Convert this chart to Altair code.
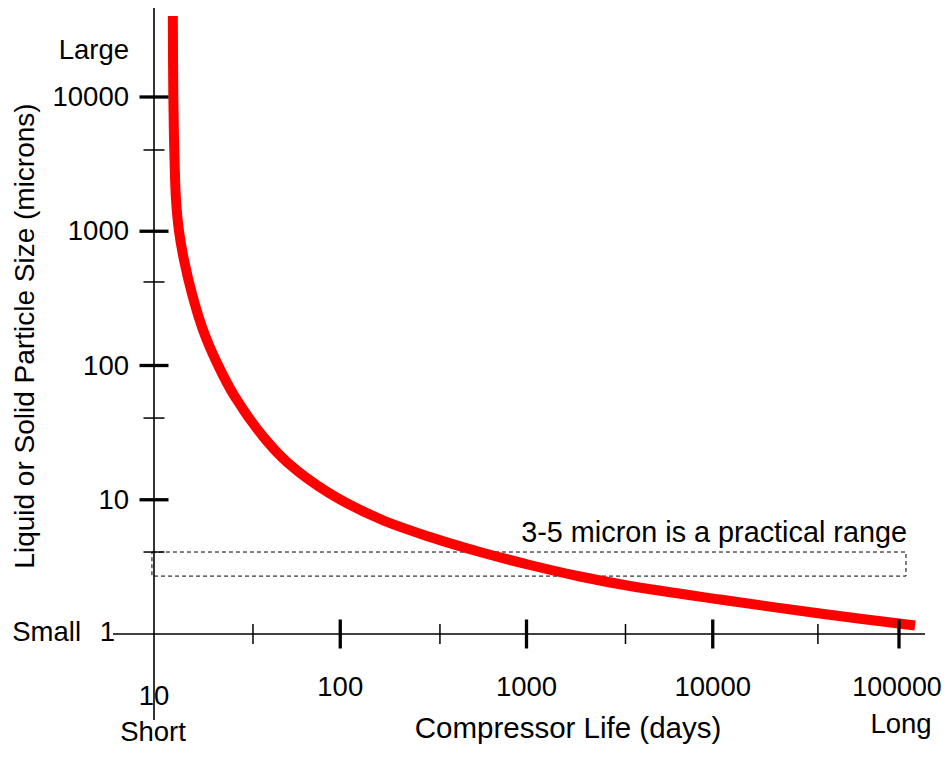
import altair as alt
import pandas as pd

# ---- data ----
life_days = [12.62, 12.70, 12.85, 13.13, 13.62, 14.49, 16.06, 18.33, 21.79, 27.22,
             38.72, 52.42, 87.02, 163.5, 303.4, 562.9, 1044, 1938, 3595, 10937, 37660, 121900]
particle_microns = [40130, 10000, 4029, 1709, 1004, 610.7, 335, 183.9, 104.4, 58.29,
                    29.34, 18.78, 11.23, 7.188, 5.279, 4.081, 3.266, 2.681, 2.278, 1.807, 1.4215, 1.157]

x_tick_values = [10, 100, 1000, 10000, 100000]
x_tick_labels = ["10", "100", "1000", "10000", "100000"]
x_major_ticks = [100, 1000, 10000, 100000]
x_minor_ticks = [34, 343, 3400, 36700]

y_tick_values = [10, 100, 1000, 10000]
y_tick_labels = ["10", "100", "1000", "10000"]
y_major_ticks = [10, 100, 1000, 10000]
y_minor_ticks = [4.08, 40.6, 419, 4030]

band_x = [9.75, 109000]
band_y = [2.70, 4.08]
band_text = "3-5 micron is a practical range"

x_title = "Compressor Life (days)"
y_title = "Liquid or Solid Particle Size (microns)"

# ---- layout ----
W, H = 934, 741
DX, DY = 186.25, 134.25      # pixels per decade
X0, Y0 = 146, 626            # pixel of x=10, y=1 inside the view
xs = alt.Scale(type="log", domain=[10 ** (1 - X0 / DX), 10 ** (1 + (W - X0) / DX)], nice=False, zero=False)
ys = alt.Scale(type="log", domain=[10 ** (-(H - Y0) / DY), 10 ** (Y0 / DY)], nice=False, zero=False)
FONT = "Liberation Sans"
FS = 27.5


def X(f):
    return alt.X(f, type="quantitative", scale=xs, axis=None)


def Y(f):
    return alt.Y(f, type="quantitative", scale=ys, axis=None)


def txt(df, **kw):
    base = dict(font=FONT, fontSize=FS, baseline="alphabetic", color="black")
    base.update(kw)
    return alt.Chart(df).mark_text(**base)


curve_df = pd.DataFrame({"x": life_days, "y": particle_microns})
band_df = pd.DataFrame({"x": [band_x[0]], "x2": [band_x[1]], "y": [band_y[0]], "y2": [band_y[1]],
                        "t": [band_text]})

band = alt.Chart(band_df).mark_rect(fillOpacity=0, stroke="black", strokeWidth=1, strokeDash=[4, 3]).encode(
    x=X("x"), x2="x2", y=Y("y"), y2="y2")

band_label = txt(band_df, fontSize=28.8, align="right", dx=1, dy=-10).encode(
    x=X("x2"), y=Y("y2"), text="t:N")

curve = alt.Chart(curve_df).mark_line(color="#ff0000", strokeWidth=10, interpolate="catmull-rom").encode(
    x=X("x"), y=Y("y"), order=alt.Order("y:Q", sort="descending"))

xaxis = alt.Chart(pd.DataFrame({"y": [1]})).mark_rule(color="black", strokeWidth=1.6).encode(
    y=Y("y"), x=alt.value(105), x2=alt.value(917))
yaxis = alt.Chart(pd.DataFrame({"x": [10]})).mark_rule(color="black", strokeWidth=1.6).encode(
    x=X("x"), y=alt.value(0), y2=alt.value(712))

xmaj = alt.Chart(pd.DataFrame({"x": x_major_ticks, "y": [1] * len(x_major_ticks)})).mark_tick(
    orient="vertical", size=29, thickness=3.3, color="black", opacity=1).encode(x=X("x"), y=Y("y"))
xmin = alt.Chart(pd.DataFrame({"x": x_minor_ticks, "y": [1] * len(x_minor_ticks)})).mark_tick(
    orient="vertical", size=20, thickness=1.5, color="black", opacity=1).encode(x=X("x"), y=Y("y"))
ymaj = alt.Chart(pd.DataFrame({"y": y_major_ticks, "x": [10] * len(y_major_ticks)})).mark_tick(
    orient="horizontal", size=29, thickness=3.3, color="black", opacity=1).encode(x=X("x"), y=Y("y"))
ymin = alt.Chart(pd.DataFrame({"y": y_minor_ticks, "x": [10] * len(y_minor_ticks)})).mark_tick(
    orient="horizontal", size=21, thickness=1.5, color="black", opacity=1).encode(x=X("x"), y=Y("y"))

ylab_df = pd.DataFrame({"y": y_tick_values, "x": [10] * len(y_tick_values), "t": y_tick_labels})
ylabels = txt(ylab_df, align="right", dx=-25, dy=9).encode(x=X("x"), y=Y("y"), text="t:N")

xlab_df = pd.DataFrame({"x": x_tick_values[1:4], "y": [1] * 3, "t": x_tick_labels[1:4]})
xlabels = txt(xlab_df, align="center", dy=62).encode(x=X("x"), y=Y("y"), text="t:N")
xlab_last = txt(pd.DataFrame({"x": [x_tick_values[4]], "y": [1], "t": [x_tick_labels[4]]}),
                fontSize=26.8, align="center", dx=-2, dy=62).encode(x=X("x"), y=Y("y"), text="t:N")
xlab10 = txt(pd.DataFrame({"x": [x_tick_values[0]], "y": [1], "t": [x_tick_labels[0]]}),
             align="center", dy=71).encode(x=X("x"), y=Y("y"), text="t:N")

one = txt(pd.DataFrame({"x": [10], "y": [1], "t": ["1"]}), align="right", dx=-39, dy=7).encode(
    x=X("x"), y=Y("y"), text="t:N")
small = txt(pd.DataFrame({"x": [10], "y": [1], "t": ["Small"]}), align="right", dx=-73, dy=7).encode(
    x=X("x"), y=Y("y"), text="t:N")
large = txt(pd.DataFrame({"x": [10], "y": [10000], "t": ["Large"]}), align="right", dx=-25, dy=-38).encode(
    x=X("x"), y=Y("y"), text="t:N")
short = txt(pd.DataFrame({"x": [10], "y": [1], "t": ["Short"]}), align="center", dx=-1, dy=107).encode(
    x=X("x"), y=Y("y"), text="t:N")
long_ = txt(pd.DataFrame({"x": [100000], "y": [1], "t": ["Long"]}), align="center", dx=2, dy=99).encode(
    x=X("x"), y=Y("y"), text="t:N")

xtitle = txt(pd.DataFrame({"t": [x_title]}), fontSize=29.5, align="center").encode(
    x=alt.value(560), y=alt.value(730), text="t:N")
ytitle = txt(pd.DataFrame({"t": [y_title]}), fontSize=28, align="center", angle=270).encode(
    x=alt.value(25.5), y=alt.value(328), text="t:N")

chart = alt.layer(
    band, curve, xaxis, yaxis, xmaj, xmin, ymaj, ymin,
    ylabels, xlabels, xlab_last, xlab10, one, small, large, short, long_, band_label, xtitle, ytitle
).properties(
    width=W, height=H, padding=0, autosize=alt.AutoSizeParams(type="none")
).configure_view(stroke=None)

chart.save("out.html", embed_options={"renderer": "svg", "actions": False})
